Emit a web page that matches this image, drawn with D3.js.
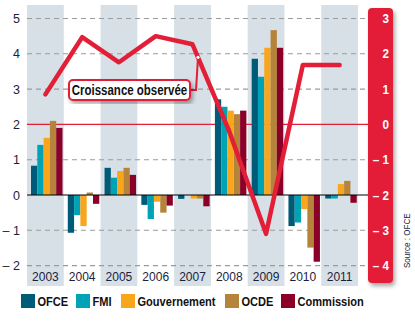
<!DOCTYPE html>
<html><head><meta charset="utf-8">
<script src="https://cdn.jsdelivr.net/npm/d3@7"></script>
<style>
html,body{margin:0;padding:0;background:#fff;}
svg{display:block;}
</style></head>
<body>
<script>
const years = ["2003","2004","2005","2006","2007","2008","2009","2010","2011"];
const seriesNames = ["OFCE","FMI","Gouvernement","OCDE","Commission"];
const colors = ["#005b78","#00a3b5","#f9a61c","#b5843a","#8a0028"];
const OFCE = [0.83, -1.07, 0.77, -0.28, -0.11, 2.71, 3.86, -0.88, -0.1];
const FMI = [1.42, -0.57, 0.49, -0.68, 0.0, 2.5, 3.35, -0.78, -0.1];
const Gouvernement = [1.62, -0.88, 0.68, -0.19, -0.1, 2.39, 4.17, -0.4, 0.31];
const OCDE = [2.1, 0.07, 0.77, -0.5, -0.1, 2.29, 4.67, -1.49, 0.4];
const Commission = [1.9, -0.25, 0.57, -0.3, -0.32, 2.39, 4.17, -1.89, -0.22];
const croissance = [0.85, 2.47, 1.76, 2.5, 2.27, -0.2, -3.1, 1.68, 1.68];
const leftTicks = [-2,-1,0,1,2,3,4,5];
const rightTicks = [-4,-3,-2,-1,0,1,2,3];
const lineLabel = "Croissance observée";
const sourceText = "Source : OFCE";

const allSeries = [OFCE, FMI, Gouvernement, OCDE, Commission];

const W = 415, H = 323;
const svg = d3.select("body").append("svg").attr("width", W).attr("height", H);
const defs = svg.append("defs");
const f = defs.append("filter").attr("id","shadow").attr("x","-30%").attr("y","-10%").attr("width","180%").attr("height","130%");
f.append("feDropShadow").attr("dx",2).attr("dy",3).attr("stdDeviation",2).attr("flood-color","#000").attr("flood-opacity",0.35);

const x = d3.scaleBand().domain(years).range([27, 358]).padding(0);
const y = d3.scaleLinear().domain([-2, 5]).range([265.6, 18.5]);
const yR = d3.scaleLinear().domain([-4, 3]).range([265.6, 18.5]);
const xs = d3.scaleBand().domain(seriesNames).range([4, 35.5]).padding(0);

const plotRight = 368;
const navy = "#1b1e3c";
const red = "#e31e37";
const FONT = "Liberation Sans, Arial, Helvetica, sans-serif";
const NARROW = 0.82;
const fmt = v => v < 0 ? "\u2013 " + Math.abs(v) : String(v);

// bands
svg.append("g").selectAll("rect").data(years.filter((d,i)=>i%2===0)).join("rect")
  .attr("x", d => x(d)).attr("width", x.bandwidth())
  .attr("y", 5).attr("height", 281).attr("fill", "#d6e0e6");

// grid
svg.append("g").selectAll("line").data(leftTicks.filter(d=>d!==0 && d!==2)).join("line")
  .attr("x1", 27).attr("x2", plotRight).attr("y1", d=>y(d)).attr("y2", d=>y(d))
  .attr("stroke", "#9b9b9b").attr("stroke-width", 1.1).attr("stroke-dasharray", "5,4");

// red reference line (right axis 0)
svg.append("line").attr("x1", 27).attr("x2", plotRight).attr("y1", yR(0)).attr("y2", yR(0))
  .attr("stroke", red).attr("stroke-width", 1.2);

// bars
const gBars = svg.append("g");
years.forEach((yr, i) => {
  allSeries.forEach((s, j) => {
    const v = s[i];
    gBars.append("rect")
      .attr("x", x(yr) + xs(seriesNames[j]))
      .attr("width", xs.bandwidth())
      .attr("y", y(Math.max(0, v)))
      .attr("height", Math.abs(y(v) - y(0)))
      .attr("fill", colors[j]);
  });
});

// zero line
svg.append("line").attr("x1", 27).attr("x2", plotRight).attr("y1", y(0)).attr("y2", y(0))
  .attr("stroke", "#000").attr("stroke-width", 1.2);

// left tick labels
svg.append("g").selectAll("text").data(leftTicks).join("text")
  .attr("x", 20).attr("y", d => y(d) + 4.5).attr("text-anchor", "end")
  .attr("font-family", FONT).attr("font-size", 12.5)
  .attr("fill", navy).text(fmt);

// year labels
svg.append("g").selectAll("text").data(years).join("text")
  .attr("x", d => x(d) + x.bandwidth()/2).attr("y", 281).attr("text-anchor", "middle")
  .attr("font-family", FONT).attr("font-size", 12)
  .attr("fill", navy).text(d => d);

// right axis panel
svg.append("rect").attr("x", plotRight).attr("y", 8).attr("width", 25).attr("height", 275)
  .attr("rx", 4).attr("fill", red).attr("filter", "url(#shadow)");
svg.append("g").selectAll("text").data(rightTicks).join("text")
  .attr("transform", d => `translate(389,${yR(d) + 4.5}) scale(0.9,1)`).attr("text-anchor", "end")
  .attr("font-family", FONT).attr("font-weight", "bold").attr("font-size", 13)
  .attr("fill", "#fff").text(fmt);

// growth line
const pts = years.map((yr, i) => [x(yr) + x.bandwidth()/2, yR(croissance[i])]);
svg.append("path").attr("d", d3.line()(pts)).attr("fill", "none")
  .attr("stroke", red).attr("stroke-width", 4.5).attr("stroke-linejoin", "round").attr("stroke-linecap", "round");

// annotation
const t = 0.15;
const ax = pts[4][0] + (pts[5][0] - pts[4][0]) * t;
const ay = pts[4][1] + (pts[5][1] - pts[4][1]) * t;
const boxX = 69, boxY = 80, boxW = 121, boxH = 20;
svg.append("path").attr("d", d3.line()([[boxX + boxW, boxY + boxH/2], [ax - 2, boxY + boxH/2], [ax, ay]]))
  .attr("fill", "none").attr("stroke", red).attr("stroke-width", 2);
svg.append("circle").attr("cx", ax).attr("cy", ay).attr("r", 1.6).attr("fill", "#fff");
svg.append("rect").attr("x", boxX).attr("y", boxY).attr("width", boxW).attr("height", boxH)
  .attr("rx", 4).attr("fill", "#fff").attr("stroke", red).attr("stroke-width", 2).attr("filter", "url(#shadow)");
svg.append("text").attr("transform", `translate(${boxX + boxW/2},${boxY + 15}) scale(${NARROW},1)`).attr("text-anchor", "middle")
  .attr("font-family", FONT)
  .attr("font-weight", "bold").attr("font-size", 14).attr("fill", "#111").text(lineLabel);

// source
svg.append("text").attr("transform", "translate(410,268) rotate(-90) scale(0.85,1)")
  .attr("font-family", FONT)
  .attr("font-size", 9.5).attr("fill", navy).text(sourceText);

// legend
const legX = [21, 76, 121, 225, 281];
const lg = svg.append("g").selectAll("g").data(seriesNames).join("g")
  .attr("transform", (d,i) => `translate(${legX[i]},294)`);
lg.append("rect").attr("width", 14).attr("height", 14).attr("fill", (d,i) => colors[i]);
lg.append("text").attr("transform", `translate(16.5,12) scale(${NARROW},1)`).attr("font-family", FONT)
  .attr("font-weight", "bold").attr("font-size", 13.5).attr("fill", "#111").text(d => d);
</script>
</body></html>
